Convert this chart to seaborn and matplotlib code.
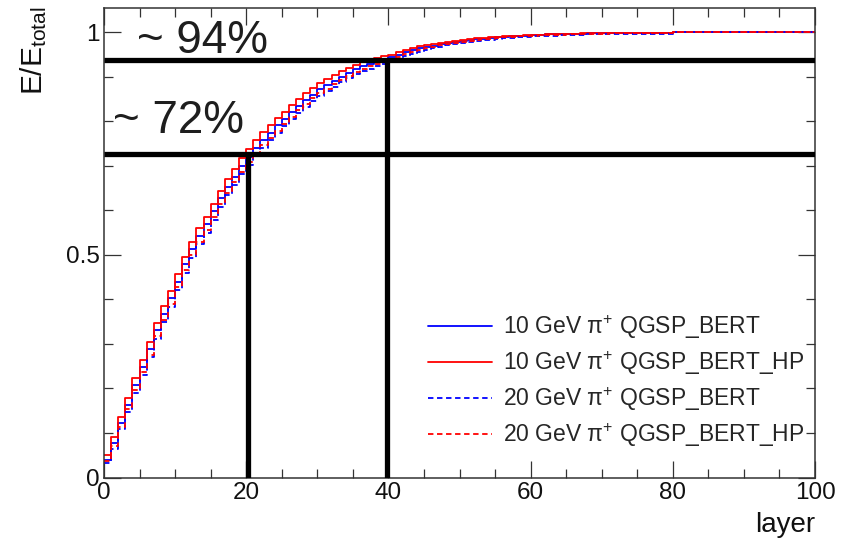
import numpy as np
import pandas as pd
import matplotlib
matplotlib.use("Agg")
import matplotlib.pyplot as plt
import seaborn as sns

# Cumulative fraction of the total deposited energy, per layer (bins of width 1)
layers = list(range(100))

frac_10gev_bert_hp = [
    0.051, 0.090, 0.137, 0.178, 0.223, 0.264, 0.305, 0.348, 0.385, 0.420,
    0.457, 0.496, 0.530, 0.560, 0.586, 0.615, 0.644, 0.670, 0.693, 0.717,
    0.738, 0.758, 0.776, 0.792, 0.807, 0.822, 0.837, 0.850, 0.863, 0.875,
    0.886, 0.895, 0.904, 0.913, 0.921, 0.928, 0.934, 0.939, 0.943, 0.947,
    0.950, 0.956, 0.961, 0.965, 0.969, 0.972, 0.974, 0.977, 0.979, 0.981,
    0.983, 0.985, 0.987, 0.988, 0.989, 0.990, 0.991, 0.992, 0.993, 0.994,
    0.995, 0.995, 0.996, 0.996, 0.997, 0.997, 0.997, 0.998, 0.998, 0.998,
    0.999, 0.999, 0.999, 0.999, 0.999, 0.999, 0.999, 0.999, 0.999, 0.999,
    1.000, 1.000, 1.000, 1.000, 1.000, 1.000, 1.000, 1.000, 1.000, 1.000,
    1.000, 1.000, 1.000, 1.000, 1.000, 1.000, 1.000, 1.000, 1.000, 1.000,
]

frac_10gev_bert = [
    0.039, 0.077, 0.123, 0.163, 0.207, 0.248, 0.288, 0.331, 0.368, 0.403,
    0.440, 0.479, 0.513, 0.543, 0.569, 0.598, 0.627, 0.653, 0.676, 0.700,
    0.721, 0.741, 0.759, 0.775, 0.791, 0.806, 0.821, 0.834, 0.848, 0.860,
    0.872, 0.881, 0.891, 0.901, 0.909, 0.917, 0.924, 0.930, 0.935, 0.940,
    0.944, 0.950, 0.956, 0.960, 0.965, 0.968, 0.970, 0.974, 0.976, 0.978,
    0.981, 0.983, 0.985, 0.986, 0.988, 0.989, 0.990, 0.991, 0.992, 0.993,
    0.994, 0.995, 0.996, 0.996, 0.996, 0.997, 0.997, 0.997, 0.998, 0.998,
    0.998, 0.999, 0.999, 0.999, 0.999, 0.999, 0.999, 0.999, 0.999, 0.999,
    1.000, 1.000, 1.000, 1.000, 1.000, 1.000, 1.000, 1.000, 1.000, 1.000,
    1.000, 1.000, 1.000, 1.000, 1.000, 1.000, 1.000, 1.000, 1.000, 1.000,
]

frac_20gev_bert_hp = [
    0.036, 0.070, 0.114, 0.153, 0.196, 0.236, 0.276, 0.318, 0.355, 0.390,
    0.427, 0.466, 0.500, 0.530, 0.556, 0.585, 0.614, 0.640, 0.663, 0.687,
    0.708, 0.729, 0.747, 0.764, 0.779, 0.795, 0.811, 0.825, 0.839, 0.852,
    0.864, 0.874, 0.884, 0.894, 0.903, 0.911, 0.918, 0.924, 0.929, 0.934,
    0.938, 0.945, 0.951, 0.956, 0.961, 0.965, 0.968, 0.971, 0.974, 0.976,
    0.979, 0.981, 0.983, 0.985, 0.986, 0.987, 0.989, 0.990, 0.991, 0.992,
    0.993, 0.994, 0.994, 0.995, 0.995, 0.996, 0.996, 0.996, 0.997, 0.997,
    0.997, 0.998, 0.998, 0.998, 0.998, 0.998, 0.998, 0.998, 0.998, 0.998,
    1.000, 1.000, 1.000, 1.000, 1.000, 1.000, 1.000, 1.000, 1.000, 1.000,
    1.000, 1.000, 1.000, 1.000, 1.000, 1.000, 1.000, 1.000, 1.000, 1.000,
]

frac_20gev_bert = [
    0.033, 0.065, 0.108, 0.147, 0.190, 0.230, 0.270, 0.312, 0.349, 0.384,
    0.421, 0.460, 0.494, 0.524, 0.550, 0.579, 0.608, 0.634, 0.657, 0.681,
    0.702, 0.723, 0.741, 0.758, 0.773, 0.789, 0.805, 0.819, 0.833, 0.846,
    0.858, 0.868, 0.878, 0.888, 0.897, 0.906, 0.913, 0.919, 0.924, 0.929,
    0.934, 0.941, 0.947, 0.952, 0.957, 0.961, 0.965, 0.968, 0.971, 0.973,
    0.976, 0.978, 0.980, 0.982, 0.984, 0.985, 0.987, 0.988, 0.989, 0.990,
    0.991, 0.992, 0.993, 0.993, 0.994, 0.994, 0.995, 0.995, 0.996, 0.996,
    0.996, 0.997, 0.997, 0.997, 0.997, 0.997, 0.997, 0.997, 0.997, 0.997,
    1.000, 1.000, 1.000, 1.000, 1.000, 1.000, 1.000, 1.000, 1.000, 1.000,
    1.000, 1.000, 1.000, 1.000, 1.000, 1.000, 1.000, 1.000, 1.000, 1.000,
]

series_labels = [
    "10 GeV π$^{\\mathregular{+}}$ QGSP_BERT",
    "10 GeV π$^{\\mathregular{+}}$ QGSP_BERT_HP",
    "20 GeV π$^{\\mathregular{+}}$ QGSP_BERT",
    "20 GeV π$^{\\mathregular{+}}$ QGSP_BERT_HP",
]

# Containment markers: fraction levels and the layers where they are reached
containment_levels = [0.727, 0.938]
containment_layers = [20.3, 39.8]
containment_texts = ["~ 72%", "~ 94%"]

x_ticks = [0, 20, 40, 60, 80, 100]
y_ticks = [0, 0.5, 1]
y_tick_labels = ["0", "0.5", "1"]

sns.set_style("ticks")
plt.rcParams["font.family"] = ["Liberation Sans", "DejaVu Sans"]
plt.rcParams["mathtext.fontset"] = "custom"
plt.rcParams["mathtext.rm"] = "Liberation Sans"
plt.rcParams["mathtext.it"] = "Liberation Sans:italic"
plt.rcParams["mathtext.bf"] = "Liberation Sans:bold"

W, H = 847, 543
fig = plt.figure(figsize=(W / 100, H / 100), dpi=100)
ax_l, ax_r, ax_b, ax_t = 104, 815, 477.5, 8
ax = fig.add_axes([ax_l / W, 1 - ax_b / H, (ax_r - ax_l) / W, (ax_b - ax_t) / H])

df = pd.DataFrame({
    "layer": np.asarray(layers, dtype=float) + 0.5,
    "s0": frac_10gev_bert,
    "s1": frac_10gev_bert_hp,
    "s2": frac_20gev_bert,
    "s3": frac_20gev_bert_hp,
})

styles = [
    ("s0", "#0000ff", "-"),
    ("s1", "#ff0000", "-"),
    ("s2", "#0000ff", (0, (3, 2))),
    ("s3", "#ff0000", (0, (3, 2))),
]
handles = []
for (col, color, ls), label in zip(styles, series_labels):
    sns.histplot(data=df, x="layer", weights=col, binwidth=1, binrange=(0, 100),
                 element="step", fill=False, color=color, linestyle=ls,
                 linewidth=1.3, ax=ax)
    line = ax.lines[-1]
    line.set_label(label)
    handles.append(line)

# Thick guide lines marking the containment levels
for lvl, lay in zip(containment_levels, containment_layers):
    ax.hlines(lvl, 0, 100, colors="black", linewidth=3.8, zorder=5)
    ax.vlines(lay, 0, lvl, colors="black", linewidth=3.8, zorder=5)

ax.text(4.6, 0.955, containment_texts[1], fontsize=33, color="#1e1e1e",
        va="baseline", ha="left")
ax.text(1.3, 0.773, containment_texts[0], fontsize=33, color="#1e1e1e",
        va="baseline", ha="left")

ax.set_xlim(0, 100)
ax.set_ylim(0, 1.055)
ax.set_xticks(x_ticks)
ax.set_xticklabels([str(t) for t in x_ticks])
ax.set_yticks(y_ticks)
ax.set_yticklabels(y_tick_labels)
ax.set_xticks(np.arange(0, 101, 5), minor=True)
ax.set_yticks(np.arange(0, 1.05, 0.1), minor=True)

frame_col = "#333333"
for sp in ax.spines.values():
    sp.set_visible(True)
    sp.set_color(frame_col)
    sp.set_linewidth(1.1)
ax.tick_params(which="both", direction="in", top=True, right=True,
               colors=frame_col, labelcolor="#111111", width=0.9)
ax.tick_params(which="major", length=12, labelsize=17.5, pad=3)
ax.tick_params(which="minor", length=6.5)

ax.set_xlabel("layer", fontsize=20, loc="right", color="#111111")
ax.xaxis.set_label_coords(1.0, -0.074)
ax.set_ylabel("E/E$_{\\mathregular{total}}$", fontsize=21.5, loc="top",
              color="#111111")
ax.yaxis.set_label_coords(-0.078, 1.004)

leg = ax.legend(handles=handles, loc="upper left",
                bbox_to_anchor=(428 / W, 1 - 313 / H),
                bbox_transform=fig.transFigure, frameon=False,
                fontsize=16.5, handlelength=2.8, handletextpad=0.48,
                labelspacing=0.35, borderpad=0, borderaxespad=0)

fig.savefig("out.png", dpi=100)
